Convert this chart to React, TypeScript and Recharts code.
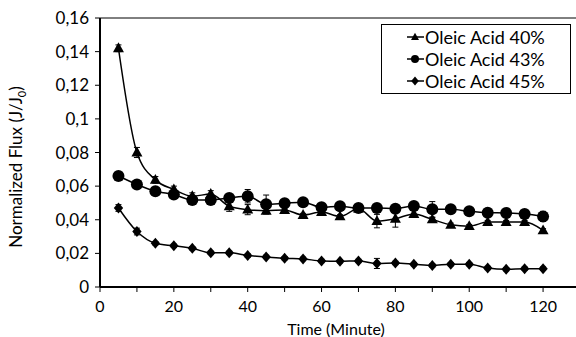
import React from "react"
import {
  LineChart,
  Line,
  XAxis,
  YAxis,
  ErrorBar,
  ReferenceLine,
} from "recharts"

const times = [5, 10, 15, 20, 25, 30, 35, 40, 45, 50, 55, 60, 65, 70, 75, 80, 85, 90, 95, 100, 105, 110, 115, 120]

const oleic40 = [0.142, 0.08, 0.0637, 0.058, 0.054, 0.0553, 0.048, 0.046, 0.0454, 0.0458, 0.0428, 0.0446, 0.042, 0.0466, 0.0392, 0.0406, 0.0434, 0.0402, 0.037, 0.0362, 0.0386, 0.0386, 0.0386, 0.0337]
const oleic43 = [0.066, 0.061, 0.057, 0.055, 0.0518, 0.0518, 0.053, 0.054, 0.0492, 0.0498, 0.0504, 0.0474, 0.048, 0.047, 0.047, 0.0466, 0.0482, 0.0462, 0.0462, 0.045, 0.0442, 0.044, 0.0434, 0.042]
const oleic45 = [0.047, 0.033, 0.026, 0.0245, 0.023, 0.0203, 0.0203, 0.0187, 0.0179, 0.0171, 0.0167, 0.0155, 0.0153, 0.0155, 0.014, 0.0143, 0.0136, 0.0128, 0.0136, 0.0136, 0.0113, 0.0106, 0.0109, 0.0109]

const err40 = [0.002, 0.003, 0.002, 0.002, 0.002, 0.002, 0.003, 0.003, 0.002, 0.001, 0.001, 0.001, 0.001, 0.001, 0.004, 0.005, 0.002, 0.001, 0.001, 0.001, 0.001, 0.001, 0.001, 0.001]
const err43 = [0.001, 0.001, 0.001, 0.001, 0.001, 0.001, 0.002, 0.004, 0.0055, 0.001, 0.001, 0.001, 0.001, 0.001, 0.001, 0.001, 0.002, 0.0046, 0.001, 0.001, 0.001, 0.001, 0.001, 0.003]
const err45 = [0.002, 0.002, 0.001, 0.001, 0.001, 0.001, 0.001, 0.001, 0.001, 0.001, 0.001, 0.001, 0.001, 0.001, 0.003, 0.001, 0.001, 0.001, 0.001, 0.001, 0.001, 0.001, 0.001, 0.001]

const xTicks = [0, 10, 20, 30, 40, 50, 60, 70, 80, 90, 100, 110, 120, 130]
const yTicks = [0, 0.02, 0.04, 0.06, 0.08, 0.1, 0.12, 0.14, 0.16]

const labels = ["Oleic Acid 40%", "Oleic Acid 43%", "Oleic Acid 45%"]

const data = times.map((t, i) => ({
  t,
  a: oleic40[i],
  b: oleic43[i],
  c: oleic45[i],
  ea: err40[i],
  eb: err43[i],
  ec: err45[i],
}))

const FONT = "Lato, 'Open Sans', sans-serif"

function Triangle({ cx, cy, s = 11 }: any) {
  if (cx == null || cy == null) return null
  const h = s * 0.9
  return <path d={`M${cx},${cy - h * 0.6} L${cx + s / 2},${cy + h * 0.4} L${cx - s / 2},${cy + h * 0.4} Z`} fill="#000" />
}

function Circle({ cx, cy, rad = 6 }: any) {
  if (cx == null || cy == null) return null
  return <circle cx={cx} cy={cy} r={rad} fill="#000" />
}

function Diamond({ cx, cy, s = 5.5 }: any) {
  if (cx == null || cy == null) return null
  return <path d={`M${cx},${cy - s} L${cx + s * 0.85},${cy} L${cx},${cy + s} L${cx - s * 0.85},${cy} Z`} fill="#000" />
}

const fmtY = (v: number) => (v === 0 ? "0" : String(Number(v.toFixed(2))).replace(".", ","))
const fmtX = (v: number) => (v % 20 === 0 ? String(v) : "")

function LegendBox() {
  const markers = [
    <Triangle cx={8} cy={8} s={8} />,
    <Circle cx={8} cy={8} rad={4} />,
    <Diamond cx={8} cy={8} s={4.5} />,
  ]
  return (
    <div
      style={{
        position: "absolute",
        left: 381,
        top: 24,
        border: "1px solid #000",
        background: "#fff",
        width: 190,
        padding: "1px 0 1px 25px",
        boxSizing: "border-box",
        fontFamily: FONT,
        fontSize: 18,
        color: "#000",
      }}
    >
      {labels.map((l, i) => (
        <div key={l} style={{ display: "flex", alignItems: "center", height: 22 }}>
          <svg width={17} height={16} style={{ marginRight: 1 }}>
            <line x1={0} y1={8} x2={17} y2={8} stroke="#000" strokeWidth={1.5} />
            {markers[i]}
          </svg>
          <span>{l}</span>
        </div>
      ))}
    </div>
  )
}

export default function App() {
  return (
    <div style={{ position: "absolute", left: 0, top: 0, width: 576, height: 337, overflow: "hidden", background: "#fff" }}>
      <LineChart width={580} height={337} data={data} margin={{ top: 18, right: 0, bottom: 0, left: 0 }}>
        <XAxis
          type="number"
          dataKey="t"
          domain={[0, 130]}
          ticks={xTicks}
          tickFormatter={fmtX}
          interval={0}
          tick={{ fill: "#000", fontSize: 16, fontFamily: FONT }}
          axisLine={{ stroke: "#000", strokeWidth: 2 }}
          tickLine={{ stroke: "#000" }}
          tickSize={5}
          tickMargin={9}
          height={50}
        />
        <YAxis
          type="number"
          domain={[0, 0.16]}
          ticks={yTicks}
          tickFormatter={fmtY}
          interval={0}
          width={100}
          tick={{ fill: "#000", fontSize: 17, fontFamily: FONT }}
          axisLine={{ stroke: "#000", strokeWidth: 2 }}
          tickLine={{ stroke: "#000" }}
          tickSize={5}
          tickMargin={6}
        />
        <ReferenceLine y={0.16} stroke="#000" strokeWidth={1} />
        <Line type="monotone" dataKey="a" name={labels[0]} stroke="#000" strokeWidth={1.5} dot={<Triangle />} activeDot={false} isAnimationActive={false}>
          <ErrorBar dataKey="ea" direction="y" width={3} stroke="#000" strokeWidth={1} />
        </Line>
        <Line type="monotone" dataKey="b" name={labels[1]} stroke="#000" strokeWidth={1.5} dot={<Circle />} activeDot={false} isAnimationActive={false}>
          <ErrorBar dataKey="eb" direction="y" width={3} stroke="#000" strokeWidth={1} />
        </Line>
        <Line type="monotone" dataKey="c" name={labels[2]} stroke="#000" strokeWidth={1.5} dot={<Diamond />} activeDot={false} isAnimationActive={false}>
          <ErrorBar dataKey="ec" direction="y" width={3} stroke="#000" strokeWidth={1} />
        </Line>
        <text x={336} y={335} textAnchor="middle" fontFamily={FONT} fontSize={16} fill="#000">
          Time (Minute)
        </text>
        <text x={22} y={167} transform="rotate(-90 22 167)" textAnchor="middle" fontFamily={FONT} fontSize={17} fill="#000">
          Normalized Flux (J/J
          <tspan fontSize={11} dy={4}>0</tspan>
          <tspan dy={-4}>)</tspan>
        </text>
      </LineChart>
      <LegendBox />
    </div>
  )
}
